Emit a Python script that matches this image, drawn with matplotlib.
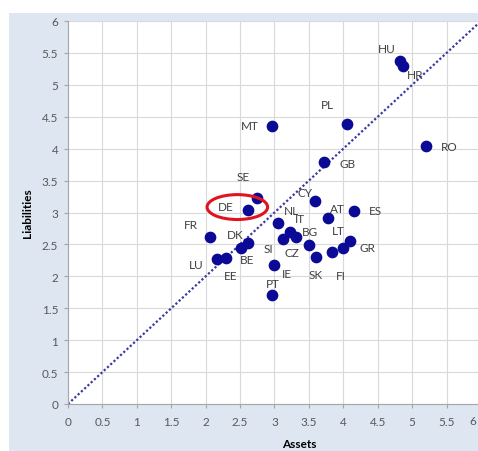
import matplotlib
matplotlib.use("Agg")
import matplotlib.pyplot as plt
from matplotlib.patches import Ellipse, Rectangle

plt.rcParams['font.family'] = ['Lato', 'DejaVu Sans']

countries = ["HU", "HR", "PL", "MT", "RO", "GB", "SE", "DE", "CY", "AT", "ES",
             "NL", "IT", "BG", "LT", "CZ", "SI", "IE", "PT", "SK", "FI", "GR",
             "FR", "DK", "BE", "LU", "EE"]
assets = [4.82, 4.87, 4.06, 2.96, 5.20, 3.72, 2.74, 2.62, 3.59, 3.78, 4.16,
          3.05, 3.23, 3.31, 3.83, 3.50, 3.12, 3.00, 2.97, 3.61, 3.99, 4.10,
          2.07, 2.62, 2.52, 2.17, 2.30]
liabilities = [5.37, 5.29, 4.38, 4.36, 4.04, 3.79, 3.22, 3.04, 3.18, 2.92, 3.03,
               2.83, 2.70, 2.62, 2.38, 2.49, 2.58, 2.17, 1.70, 2.31, 2.45, 2.56,
               2.62, 2.53, 2.45, 2.27, 2.29]
ticks = [0, 0.5, 1, 1.5, 2, 2.5, 3, 3.5, 4, 4.5, 5, 5.5, 6]
tick_labels = ["0", "0.5", "1", "1.5", "2", "2.5", "3", "3.5", "4", "4.5", "5", "5.5", "6"]

# label offsets in pixels (layout only)
label_offsets = [(-13, 13), (12, -8), (-20, 20), (-22, 0), (23, 0), (24, -1),
                 (-13, 22), (-23, 3), (-10, 9), (9, 9), (21, 0), (13, 13),
                 (10, 13), (14, 5), (7, 22), (-17, -7), (-14, -9), (12, -8),
                 (0, 12), (-1, -18), (-2, -28), (17, -7), (-20, 12), (-13, 8),
                 (6, -12), (-21, -5), (4, -18)]

W, H = 478, 452
fig = plt.figure(figsize=(W / 100, H / 100), dpi=100)
fig.patch.set_facecolor("#dde6f1")
# white margin strips (left and top) outside the chart area
fig.add_artist(Rectangle((0, 0), 9 / W, 1, transform=fig.transFigure,
                         facecolor="white", edgecolor="none", zorder=-5))
fig.add_artist(Rectangle((0, (H - 14) / H), 1, 14 / H, transform=fig.transFigure,
                         facecolor="white", edgecolor="none", zorder=-5))

ax = fig.add_axes([68 / W, 47 / H, 413 / W, 383 / H])
ax.set_facecolor("white")
ax.set_xlim(0, 6)
ax.set_ylim(0, 6)
ax.set_xticks(ticks)
ax.set_xticklabels(tick_labels[:-1] + [""])
ax.set_yticks(ticks)
ax.set_yticklabels(tick_labels)
ax.grid(True, color="#d9d9d9", linewidth=0.8)
ax.set_axisbelow(True)
for s in ["top", "right"]:
    ax.spines[s].set_visible(False)
for s in ["left", "bottom"]:
    ax.spines[s].set_color("#a6a6a6")
    ax.spines[s].set_linewidth(0.8)
ax.tick_params(axis="both", colors="#a6a6a6", labelcolor="#595959",
               labelsize=8.5, length=3, width=0.8)
ax.tick_params(axis="x", pad=6)
ax.tick_params(axis="y", pad=4)
# last x tick label, nudged inward so it stays inside the picture
fig.text(473 / W, 1 - 422 / H, tick_labels[-1], fontsize=8.5, color="#595959",
         ha="center", va="center")

ax.plot([ticks[0], ticks[-1]], [ticks[0], ticks[-1]], linestyle=(0, (1, 1)),
        color="#3a3aa0", linewidth=1.6, zorder=2)

ax.scatter(assets, liabilities, s=55, color="#0a0a96", zorder=3)

for c, a, l, off in zip(countries, assets, liabilities, label_offsets):
    ax.annotate(c, (a, l), xytext=off, textcoords="offset pixels",
                ha="center", va="center", fontsize=8.5, color="#404040", zorder=4)

ax.add_patch(Ellipse((2.46, 3.085), 0.88, 0.39, fill=False, edgecolor="#e0141e",
                     linewidth=2.2, zorder=5))

ax.set_ylabel("Liabilities", fontsize=8.5, fontweight="bold", labelpad=6)
fig.text(299 / W, 1 - 445 / H, "Assets", fontsize=8.5, fontweight="bold",
         ha="center", va="center")

fig.savefig("out.png", dpi=100, facecolor=fig.get_facecolor())
